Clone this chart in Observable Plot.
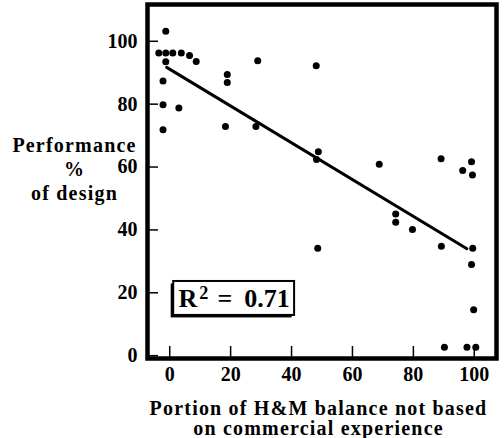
<!DOCTYPE html>
<html><head><meta charset="utf-8">
<script src="https://cdn.jsdelivr.net/npm/d3@7"></script>
<script src="https://cdn.jsdelivr.net/npm/@observablehq/plot@0.6"></script>
<style>body{margin:0;background:#fff} svg text{font-family:'Liberation Serif','Times New Roman',serif}</style>
</head><body><div id="chart"></div>
<script>
// Portion of H&M balance not based on commercial experience (%)
const portion = [-1.3, -3.6, -1.3, 1.0, 3.8, 6.5, 8.7, -1.3, 28.9, 48.1,
  -2.2, 18.9, 18.9, -2.2, 3.0, -2.2, 18.3, 28.3, 48.8, 48.2,
  68.8, 89.1, 99.1, 96.2, 99.4, 74.2, 74.2, 79.7, 48.6, 89.2,
  99.5, 99.1, 99.8, 90.2, 97.6, 100.5];
// Performance, % of design
const performance = [103.2, 96.3, 96.3, 96.3, 96.3, 95.5, 93.6, 93.5, 93.8, 92.2,
  87.4, 89.4, 86.9, 79.8, 78.8, 71.9, 72.9, 72.9, 64.9, 62.4,
  60.9, 62.6, 61.7, 58.9, 57.5, 45.1, 42.4, 40.1, 34.2, 34.8,
  34.2, 29.0, 14.6, 2.7, 2.7, 2.7];
// regression line end points
const fitX = [-1.0, 97.6];
const fitY = [91.7, 34.0];
const xTicks = [0, 20, 40, 60, 80, 100];
const yTicks = [0, 20, 40, 60, 80, 100];
const xTitle = "Portion of H&M balance not based\non commercial experience";
const yTitle = "Performance\n%\nof design";
const rSquared = "0.71";
const boxX = [1.3, 41];
const boxY = [12.8, 23.6];

const points = portion.map((x, i) => ({x, y: performance[i]}));
const fit = fitX.map((x, i) => ({x, y: fitY[i]}));
const box = [{x1: boxX[0], x2: boxX[1], y1: boxY[0], y2: boxY[1]}];

const W = 504, H = 438, mL = 147, mR = 8, mT = 4, mB = 80;
const frameW = W - mL - mR, frameH = H - mT - mB;
const font = "'Liberation Serif', 'Times New Roman', serif";

const plot = Plot.plot({
  width: W, height: H,
  marginLeft: mL, marginRight: mR, marginTop: mT, marginBottom: mB,
  x: {domain: [-7.3, 107.3]},
  y: {domain: [-0.9, 111.7]},
  style: {fontFamily: font, fontWeight: "bold", fontSize: "20px", background: "white", color: "black"},
  marks: [
    Plot.tickY(yTicks, {y: d => d, insetRight: frameW - 11, strokeWidth: 1.5, stroke: "black"}),
    Plot.tickX(xTicks, {x: d => d, insetTop: frameH - 12, strokeWidth: 1.5, stroke: "black"}),
    Plot.axisY({ticks: yTicks, tickSize: 0, tickPadding: 10, label: null, fontSize: 20, fontWeight: "bold", fontFamily: font}),
    Plot.axisX({ticks: xTicks, tickSize: 0, tickPadding: 8, label: null, fontSize: 20, fontWeight: "bold", fontFamily: font}),
    Plot.line(fit, {x: "x", y: "y", stroke: "black", strokeWidth: 3}),
    Plot.dot(points, {x: "x", y: "y", r: 3.5, fill: "black"}),
    Plot.rect(box, {x1: "x1", x2: "x2", y1: "y1", y2: "y2", fill: "black", dx: -2.5, dy: 2.5}),
    Plot.rect(box, {x1: "x1", x2: "x2", y1: "y1", y2: "y2", fill: "white", stroke: "black", strokeWidth: 2}),
    Plot.text(box, {x: d => (d.x1 + d.x2) / 2, y: d => (d.y1 + d.y2) / 2, text: () => "R2 = " + rSquared,
      fontSize: 26, fontWeight: "bold", fill: "black", fontFamily: font}),
    Plot.text([yTitle], {text: d => d, frameAnchor: "left", dx: -73, dy: -13, textAnchor: "middle",
      lineAnchor: "middle", lineHeight: 1.2, fontSize: 20, fontWeight: "bold", fill: "black", fontFamily: font}),
    Plot.text([xTitle], {text: d => d, frameAnchor: "bottom", dx: -3.5, dy: 60, textAnchor: "middle",
      lineAnchor: "middle", lineHeight: 1.0, fontSize: 20, fontWeight: "bold", fill: "black", fontFamily: font}),
    Plot.frame({stroke: "black", strokeWidth: 4.5})
  ]
});

const svg = d3.select(plot);
svg.selectAll("text").each(function () {
  const t = this.textContent;
  if (t.startsWith("R2 = ")) {
    const el = d3.select(this);
    el.text(null);
    el.append("tspan").text("R");
    el.append("tspan").attr("dx", 2).attr("dy", "-0.42em").attr("font-size", "0.7em").text("2");
    el.append("tspan").attr("dx", 9).attr("dy", "0.3em").text("=");
    el.append("tspan").attr("dx", 12).text(rSquared);
  } else if (t.startsWith("Performance") || t.startsWith("Portion")) {
    d3.select(this).style("letter-spacing", "1.2px");
  }
});
document.getElementById("chart").append(plot);
</script>
</body></html>
